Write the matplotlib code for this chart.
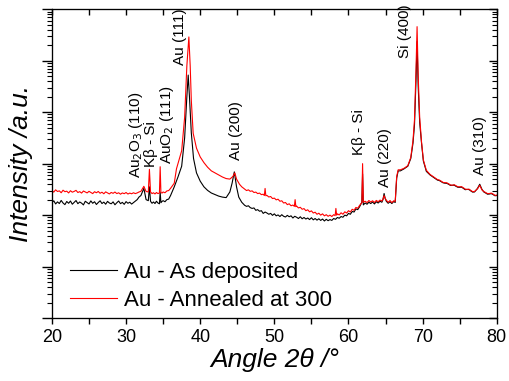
import matplotlib
matplotlib.use("Agg")
import matplotlib.pyplot as plt
from matplotlib.ticker import MultipleLocator, NullFormatter, LogLocator
import matplotlib.transforms as mtransforms

plt.rcParams['font.family'] = ['Liberation Sans', 'DejaVu Sans']

# (2-theta in deg, intensity in a.u.)
black_pts = [
    (20.0, 174), (20.25, 190), (20.5, 165), (20.75, 181), (21.0, 168), (21.25, 193),
    (21.5, 172), (21.75, 160), (22.0, 184), (22.25, 170), (22.5, 188), (22.75, 163),
    (23.0, 177), (23.25, 192), (23.5, 167), (23.75, 180), (24.0, 171), (24.25, 158),
    (24.5, 186), (24.75, 175), (25.0, 165), (25.25, 189), (25.5, 170), (25.75, 182),
    (26.0, 161), (26.25, 176), (26.5, 190), (26.75, 168), (27.0, 179), (27.25, 163),
    (27.5, 185), (27.75, 172), (28.0, 166), (28.25, 181), (28.5, 159), (28.75, 174),
    (29.0, 188), (29.25, 167), (29.5, 177), (29.75, 162), (30.0, 183), (30.25, 170),
    (30.5, 178), (30.75, 164), (31.0, 175), (31.25, 187), (31.5, 200), (31.75, 225),
    (32.0, 240), (32.4, 331), (32.7, 200), (33.0, 191), (33.15, 355), (33.3, 186),
    (33.5, 170), (33.7, 180), (33.9, 168), (34.1, 186), (34.3, 172), (34.5, 166),
    (34.6, 282), (34.7, 174), (34.85, 185), (35.0, 191), (35.25, 182), (35.5, 200),
    (35.75, 205), (36.0, 240), (36.5, 355), (37.0, 550), (37.5, 891), (37.9, 3162),
    (38.2, 19950), (38.38, 52480), (38.55, 19950), (38.8, 3981), (39.1, 1259),
    (39.5, 661), (40.0, 457), (40.5, 355), (41.0, 302), (41.5, 269), (42.0, 251),
    (42.5, 234), (43.0, 224), (43.5, 219), (44.0, 282), (44.3, 417), (44.6, 692),
    (44.9, 355), (45.2, 224), (45.6, 178),
    (46.0, 155), (46.25, 148), (46.5, 152), (46.75, 140), (47.0, 135), (47.25, 138),
    (47.5, 124), (47.75, 128), (48.0, 119), (48.25, 122), (48.5, 108), (48.75, 115),
    (49.0, 110), (49.25, 104), (49.5, 108), (49.75, 99), (50.0, 106), (50.25, 97),
    (50.5, 101), (50.75, 94), (51.0, 102), (51.25, 95), (51.5, 92), (51.75, 99),
    (52.0, 93), (52.25, 97), (52.5, 88), (52.75, 95), (53.0, 91), (53.25, 86),
    (53.5, 93), (53.75, 85), (54.0, 90), (54.25, 84), (54.5, 88), (54.75, 82),
    (55.0, 89), (55.25, 81), (55.5, 86), (55.75, 80), (56.0, 85), (56.25, 79),
    (56.5, 84), (56.75, 77), (57.0, 83), (57.25, 78), (57.5, 82), (57.75, 79),
    (58.0, 86), (58.25, 83), (58.5, 90), (58.75, 87), (59.0, 94), (59.25, 91),
    (59.5, 100), (59.75, 97), (60.0, 108), (60.25, 104), (60.5, 118), (60.75, 115),
    (61.0, 132), (61.25, 128), (61.5, 146), (61.8, 178), (61.9, 631),
    (62.0, 158), (62.25, 172), (62.5, 163), (62.75, 178), (63.0, 168), (63.25, 180),
    (63.5, 165), (63.75, 182), (64.0, 172), (64.25, 186), (64.5, 178), (64.65, 200),
    (64.8, 263), (64.95, 210), (65.1, 186), (65.35, 170), (65.6, 182), (65.85, 168),
    (66.1, 185), (66.3, 176),
    (66.5, 525), (66.7, 724), (67.0, 724), (67.5, 794), (68.0, 891), (68.4, 1259),
    (68.7, 2512), (68.9, 5623), (69.1, 39810), (69.25, 234400), (69.4, 31620),
    (69.6, 6310), (69.85, 2512), (70.1, 1122), (70.5, 708), (71.0, 603), (71.5, 537),
    (72.0, 479), (72.25, 470), (72.5, 447), (72.75, 425), (73.0, 417), (73.25, 415),
    (73.5, 398), (73.75, 378), (74.0, 380), (74.25, 382), (74.5, 363), (74.75, 348),
    (75.0, 347), (75.25, 350), (75.5, 331), (75.75, 312), (76.0, 316), (76.25, 314),
    (76.5, 295), (76.75, 280), (77.0, 282), (77.4, 331), (77.7, 398), (78.0, 316),
    (78.25, 282), (78.5, 269), (78.75, 255), (79.0, 257), (79.25, 262), (79.5, 251),
    (79.75, 238), (80.0, 240),
]

red_pts = [
    (20.0, 300), (20.25, 280), (20.5, 310), (20.75, 288), (21.0, 296), (21.25, 272),
    (21.5, 305), (21.75, 285), (22.0, 292), (22.25, 270), (22.5, 298), (22.75, 279),
    (23.0, 289), (23.25, 303), (23.5, 275), (23.75, 286), (24.0, 268), (24.25, 294),
    (24.5, 281), (24.75, 270), (25.0, 290), (25.25, 276), (25.5, 262), (25.75, 285),
    (26.0, 272), (26.25, 288), (26.5, 266), (26.75, 279), (27.0, 260), (27.25, 283),
    (27.5, 270), (27.75, 258), (28.0, 276), (28.25, 265), (28.5, 281), (28.75, 262),
    (29.0, 272), (29.25, 255), (29.5, 270), (29.75, 261), (30.0, 275), (30.25, 257),
    (30.5, 268), (30.75, 260), (31.0, 272), (31.25, 262), (31.5, 270), (31.75, 282),
    (32.0, 290), (32.4, 363), (32.7, 288), (33.0, 282), (33.15, 776), (33.3, 282),
    (33.5, 262), (33.7, 272), (33.9, 258), (34.1, 275), (34.3, 262), (34.5, 269),
    (34.6, 871), (34.7, 275), (34.85, 268), (35.0, 282), (35.25, 272), (35.5, 295),
    (35.75, 300), (36.0, 331), (36.5, 417), (36.8, 794), (37.0, 1000), (37.5, 1778),
    (37.9, 7943), (38.2, 79430), (38.47, 288400), (38.65, 79430), (38.8, 16980),
    (39.05, 3890), (39.5, 1995), (40.0, 1349), (40.5, 1047), (41.0, 851), (41.5, 724),
    (42.0, 661), (42.5, 603), (43.0, 550), (43.5, 513), (44.0, 501), (44.4, 562),
    (44.67, 661), (44.9, 501), (45.3, 398), (45.6, 355),
    (46.0, 320), (46.25, 300), (46.5, 310), (46.75, 290), (47.0, 296), (47.25, 275),
    (47.5, 280), (47.75, 262), (48.0, 268), (48.25, 250), (48.5, 255), (48.65, 240),
    (48.75, 330), (48.85, 238), (49.0, 242), (49.25, 225), (49.5, 230), (49.75, 210),
    (50.0, 214), (50.25, 198), (50.5, 204), (50.75, 186), (51.0, 190), (51.25, 172),
    (51.5, 176), (51.75, 160), (52.0, 166), (52.25, 152), (52.5, 157), (52.7, 148),
    (52.8, 200), (52.9, 146), (53.0, 150), (53.25, 138), (53.5, 142), (53.75, 130),
    (54.0, 134), (54.25, 122), (54.5, 127), (54.75, 116), (55.0, 121), (55.25, 110),
    (55.5, 114), (55.75, 104), (56.0, 109), (56.25, 100), (56.5, 106), (56.75, 97),
    (57.0, 102), (57.25, 95), (57.5, 100), (57.75, 94), (58.0, 102), (58.2, 98),
    (58.3, 135), (58.4, 100), (58.5, 106), (58.75, 101), (59.0, 111), (59.25, 104),
    (59.5, 116), (59.75, 110), (60.0, 122), (60.25, 115), (60.5, 130), (60.75, 124),
    (61.0, 141), (61.25, 136), (61.5, 155), (61.8, 174), (61.9, 1000),
    (62.0, 178), (62.25, 186), (62.5, 175), (62.75, 192), (63.0, 180), (63.25, 190),
    (63.5, 176), (63.75, 193), (64.0, 182), (64.25, 196), (64.5, 188), (64.65, 205),
    (64.8, 240), (64.95, 212), (65.1, 195), (65.35, 178), (65.6, 192), (65.85, 175),
    (66.1, 190), (66.3, 185),
    (66.5, 562), (66.7, 759), (67.0, 759), (67.5, 813), (68.0, 912), (68.4, 1318),
    (68.7, 2818), (68.9, 7079), (69.1, 63100), (69.25, 457100), (69.4, 50120),
    (69.6, 7943), (69.85, 2630), (70.1, 1175), (70.5, 741), (71.0, 617), (71.5, 550),
    (72.0, 490), (72.25, 480), (72.5, 457), (72.75, 432), (73.0, 427), (73.25, 425),
    (73.5, 407), (73.75, 385), (74.0, 380), (74.25, 390), (74.5, 372), (74.75, 355),
    (75.0, 355), (75.25, 357), (75.5, 339), (75.75, 320), (76.0, 316), (76.25, 320),
    (76.5, 302), (76.75, 285), (77.0, 288), (77.4, 324), (77.7, 380), (78.0, 309),
    (78.25, 288), (78.5, 275), (78.75, 262), (79.0, 263), (79.25, 268), (79.5, 257),
    (79.75, 242), (80.0, 245),
]

black_angle, black_int = zip(*sorted(black_pts))
red_angle, red_int = zip(*sorted(red_pts))

# peak labels: text, x position (deg), bottom of text (axes fraction)
peak_labels = ["Au$_2$O$_3$ (110)", "K\u03b2 - Si", "AuO$_2$ (111)", "Au (111)",
               "Au (200)", "K\u03b2 - Si", "Au (220)", "Si (400)", "Au (310)"]
peak_x = [31.3, 33.35, 35.5, 37.25, 44.8, 61.45, 64.9, 67.6, 77.7]
peak_y = [0.455, 0.489, 0.50, 0.82, 0.511, 0.527, 0.424, 0.842, 0.463]

fig = plt.figure(figsize=(5.09, 3.81), dpi=100)
ax = fig.add_axes([0.102, 0.165, 0.874, 0.811])

ax.plot(black_angle, black_int, color="black", lw=0.8, label="Au - As deposited")
ax.plot(red_angle, red_int, color="red", lw=0.8, label="Au - Annealed at 300")

ax.set_yscale("log")
ax.set_xlim(20, 80)
ax.set_ylim(1, 1e6)
ax.xaxis.set_major_locator(MultipleLocator(10))
ax.xaxis.set_minor_locator(MultipleLocator(5))
ax.yaxis.set_major_locator(LogLocator(base=10))
ax.yaxis.set_minor_locator(LogLocator(base=10, subs=range(2, 10), numticks=20))
ax.yaxis.set_major_formatter(NullFormatter())
ax.yaxis.set_minor_formatter(NullFormatter())
ax.tick_params(axis="x", which="both", direction="out", length=4, width=1, labelsize=13)
ax.tick_params(axis="y", which="major", direction="out", length=7, width=1)
ax.tick_params(axis="y", which="minor", direction="out", length=3.5, width=0.8)

# mirrored ticks pointing inward on top and right
axr = ax.twinx()
axr.set_yscale("log")
axr.set_ylim(1, 1e6)
axr.yaxis.set_major_locator(LogLocator(base=10))
axr.yaxis.set_minor_locator(LogLocator(base=10, subs=range(2, 10), numticks=20))
axr.yaxis.set_major_formatter(NullFormatter())
axr.yaxis.set_minor_formatter(NullFormatter())
axr.tick_params(axis="y", which="major", direction="in", length=6, width=1)
axr.tick_params(axis="y", which="minor", direction="in", length=3.5, width=0.8)
axt = ax.twiny()
axt.set_xlim(20, 80)
axt.xaxis.set_major_locator(MultipleLocator(5))
axt.xaxis.set_minor_locator(MultipleLocator(5))
axt.tick_params(axis="x", which="both", direction="in", length=4, width=1, labeltop=False)

trans = mtransforms.blended_transform_factory(ax.transData, ax.transAxes)
for txt, x, y in zip(peak_labels, peak_x, peak_y):
    ax.text(x, y, txt, rotation=90, ha="center", va="bottom", fontsize=11,
            transform=trans)

ax.set_xlabel("Angle 2\u03b8 /\u00b0", fontsize=19, fontstyle="italic", labelpad=2)
ax.set_ylabel("Intensity /a.u.", fontsize=19, fontstyle="italic", labelpad=3)

ax.legend(loc="lower left", bbox_to_anchor=(0.02, -0.005), frameon=False,
          fontsize=16, handlelength=2.15, handletextpad=0.3, labelspacing=0.3,
          borderaxespad=0)

fig.savefig("out.png", dpi=100)
